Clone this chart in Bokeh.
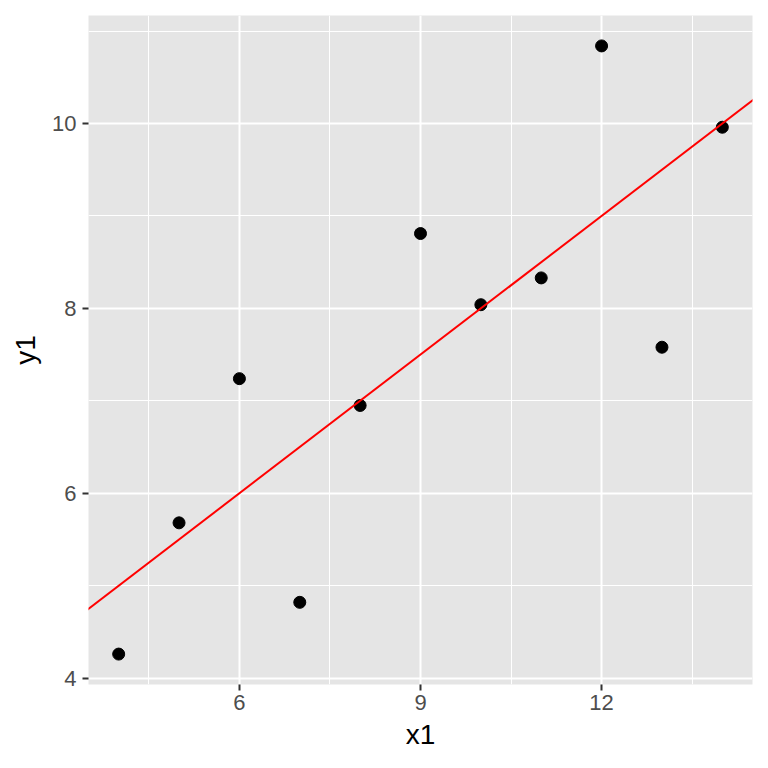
from bokeh.plotting import figure
from bokeh.models import Range1d, FixedTicker, Slope
from bokeh.embed import file_html
from bokeh.resources import INLINE

x1 = [10, 8, 13, 9, 11, 14, 6, 4, 12, 7, 5]
y1 = [8.04, 6.95, 7.58, 8.81, 8.33, 9.96, 7.24, 4.26, 10.84, 4.82, 5.68]
intercept = 3.0
slope = 0.5
x_ticks = [6, 9, 12]
y_ticks = [4, 6, 8, 10]
x_minor = [4.5, 7.5, 10.5, 13.5]
y_minor = [5, 7, 9, 11]

xmin, xmax = min(x1), max(x1)
ymin, ymax = min(y1), max(y1)
xpad = (xmax - xmin) * 0.05
ypad = (ymax - ymin) * 0.05

p = figure(width=760, height=760, output_backend="svg", toolbar_location=None,
           x_range=Range1d(xmin - xpad, xmax + xpad),
           y_range=Range1d(ymin - ypad, ymax + ypad),
           min_border_left=88, min_border_right=8, min_border_top=15, min_border_bottom=76)

p.background_fill_color = "#E5E5E5"
p.border_fill_color = "white"
p.outline_line_color = None

for ax, ticks, minor in ((p.xaxis[0], x_ticks, x_minor), (p.yaxis[0], y_ticks, y_minor)):
    ax.ticker = FixedTicker(ticks=ticks, minor_ticks=minor)
    ax.axis_line_color = None
    ax.major_tick_line_color = "#333333"
    ax.major_tick_line_width = 2
    ax.major_tick_out = 6
    ax.major_tick_in = 0
    ax.minor_tick_line_color = None
    ax.major_label_text_font = "Liberation Sans"
    ax.major_label_text_font_size = "22px"
    ax.major_label_text_color = "#4D4D4D"
    ax.axis_label_text_font = "Liberation Sans"
    ax.axis_label_text_font_size = "28px"
    ax.axis_label_text_font_style = "normal"
    ax.axis_label_text_color = "black"

p.xaxis.axis_label = "x1"
p.yaxis.axis_label = "y1"
p.xaxis.major_label_standoff = 4
p.yaxis.major_label_standoff = 6
p.xaxis.axis_label_standoff = 6
p.yaxis.axis_label_standoff = 8

for g in (p.xgrid[0], p.ygrid[0]):
    g.grid_line_color = "white"
    g.grid_line_width = 2
    g.minor_grid_line_color = "white"
    g.minor_grid_line_width = 1

p.add_layout(Slope(gradient=slope, y_intercept=intercept, line_color="red", line_width=2))
p.scatter(x1, y1, size=12, color="black")

open("out.html", "w").write(file_html(p, INLINE))
